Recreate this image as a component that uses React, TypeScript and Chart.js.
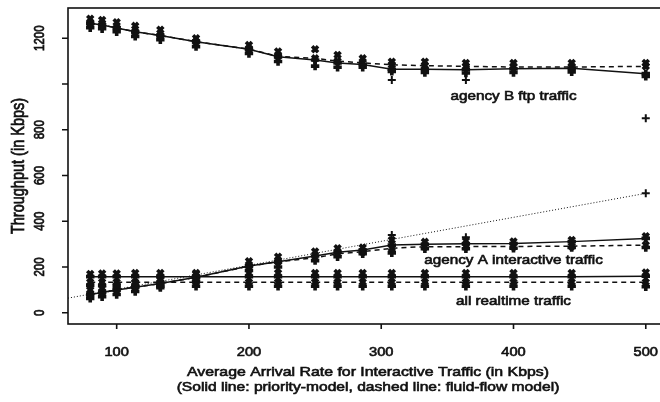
import React, { useEffect, useRef } from "react";
import { Chart, registerables } from "chart.js";

Chart.register(...registerables);

// Average arrival rate for interactive traffic (Kbps)
const rates = [80, 89, 100, 114, 133, 160, 200, 222, 250, 267, 286, 308, 333, 364, 400, 444, 500];

// agency B ftp traffic
const ftpPriority = [1265, 1258, 1245, 1228, 1212, 1185, 1152, 1119, 1105, 1092, 1085, 1064, 1064, 1062, 1066, 1069, 1045];
const ftpFluid = [1265, 1258, 1245, 1228, 1212, 1185, 1152, 1121, 1112, 1100, 1092, 1084, 1080, 1077, 1074, 1074, 1077];
const ftpSimHigh = [1285, 1280, 1270, 1254, 1237, 1200, 1170, 1142, 1152, 1127, 1112, 1097, 1097, 1092, 1092, 1092, 1092];
const ftpSimLow = [1246, 1241, 1228, 1208, 1193, 1163, 1133, 1098, 1078, 1073, 1073, 1055, 1050, 1048, 1050, 1053, 1033];

// agency A interactive traffic
const intPriority = [80, 89, 100, 112, 128, 155, 204, 223, 248, 265, 274, 296, 299, 302, 303, 311, 325];
const intFluid = [80, 89, 100, 112, 128, 155, 204, 223, 240, 258, 267, 282, 289, 289, 290, 291, 296];
const intSimHigh = [100, 108, 118, 130, 145, 170, 225, 245, 268, 282, 285, 318, 310, 315, 312, 318, 335];
const intSimLow = [63, 70, 80, 93, 110, 138, 185, 200, 228, 245, 258, 262, 280, 280, 282, 285, 285];

// all realtime traffic
const rtPriority = [158, 158, 158, 158, 158, 158, 158, 158, 158, 158, 158, 158, 158, 158, 158, 158, 160];
const rtFluid = [134, 134, 134, 134, 134, 134, 134, 134, 134, 134, 134, 134, 134, 134, 134, 134, 134];
const rtSimHigh = [170, 172, 172, 174, 174, 174, 174, 174, 174, 174, 174, 174, 174, 174, 174, 174, 176];
const rtSimLow = [120, 118, 118, 116, 116, 116, 116, 116, 116, 116, 116, 116, 116, 116, 116, 116, 114];

// offered interactive load (dotted) and isolated simulation points
const offeredX = [63.2, 500];
const offeredY = [64, 522];
const outlierX = [308, 364, 500, 308, 364, 500];
const outlierY = [1017, 1017, 850, 340, 330, 522];

const xTicks = [100, 200, 300, 400, 500];
const yTicks = [0, 200, 400, 600, 800, 1000, 1200];
const yTickLabels = ["0", "200", "400", "600", "800", "", "1200"];

const xTitle = "Average Arrival Rate for Interactive Traffic (in Kbps)";
const xSubTitle = "(Solid line: priority-model, dashed line: fluid-flow model)";
const yTitle = "Throughput (in Kbps)";

const noteTexts = ["agency B ftp traffic", "agency A interactive traffic", "all realtime traffic"];
const noteX = [400, 400, 400];
const noteY = [943, 229, 48];

const FONT = '"Liberation Sans", Arial, Helvetica, sans-serif';
const INK = "#111";
const SX = 1.22;

const pts = (xs: number[], ys: number[]) => xs.map((x, i) => ({ x, y: ys[i] }));

function drawText(ctx: CanvasRenderingContext2D, s: string, x: number, y: number, size: number, rotate = false) {
  ctx.save();
  ctx.translate(x, y);
  ctx.scale(SX, 1);
  if (rotate) ctx.rotate(-Math.PI / 2);
  ctx.font = `${size}px ${FONT}`;
  ctx.textAlign = "center";
  ctx.textBaseline = "middle";
  ctx.fillStyle = INK;
  ctx.strokeStyle = INK;
  ctx.lineWidth = 0.6;
  ctx.fillText(s, 0, 0);
  ctx.strokeText(s, 0, 0);
  ctx.restore();
}

const rAxes = {
  id: "rAxes",
  afterDraw(chart: any) {
    const { ctx, chartArea: a, scales } = chart;
    const xs = scales.x;
    const ys = scales.y;
    ctx.save();
    ctx.strokeStyle = INK;
    ctx.lineWidth = 1.6;
    ctx.strokeRect(a.left, a.top, a.right - a.left, a.bottom - a.top);
    ctx.beginPath();
    xTicks.forEach((v) => {
      const px = xs.getPixelForValue(v);
      ctx.moveTo(px, a.bottom);
      ctx.lineTo(px, a.bottom + 5);
    });
    yTicks.forEach((v) => {
      const py = ys.getPixelForValue(v);
      ctx.moveTo(a.left, py);
      ctx.lineTo(a.left - 6, py);
    });
    ctx.stroke();
    ctx.restore();

    xTicks.forEach((v) => drawText(ctx, String(v), xs.getPixelForValue(v), a.bottom + 29, 12));
    yTicks.forEach((v, i) => {
      if (yTickLabels[i]) drawText(ctx, yTickLabels[i], 40, ys.getPixelForValue(v), 11.5, true);
    });
    const cx = (a.left + a.right) / 2;
    drawText(ctx, xTitle, cx, a.bottom + 48, 13);
    drawText(ctx, xSubTitle, cx, a.bottom + 63, 12.8);
    drawText(ctx, yTitle, 19, (a.top + a.bottom) / 2, 14.5, true);
    noteTexts.forEach((t, i) =>
      drawText(ctx, t, xs.getPixelForValue(noteX[i]), ys.getPixelForValue(noteY[i]), 12.5)
    );
  },
};

export default function App() {
  const ref = useRef<HTMLCanvasElement | null>(null);
  useEffect(() => {
    if (!ref.current) return;
    const line = (ys: number[], dash: number[]) => ({
      data: pts(rates, ys),
      borderColor: INK,
      borderWidth: 1.5,
      borderDash: dash,
      pointRadius: 0,
      showLine: true,
      fill: false,
      tension: 0,
    });
    const marks = (ys: number[], style: string) => ({
      data: pts(rates, ys),
      showLine: false,
      pointStyle: style,
      pointRadius: 4.2,
      pointBorderWidth: 3.6,
      pointBorderColor: INK,
      pointBackgroundColor: INK,
    });
    const chart = new Chart(ref.current, {
      type: "scatter",
      data: {
        datasets: [
          {
            data: pts(offeredX, offeredY),
            borderColor: INK,
            borderWidth: 1,
            borderDash: [1, 2],
            pointRadius: 0,
            showLine: true,
          },
          line(ftpPriority, []),
          line(ftpFluid, [5, 4]),
          line(intPriority, []),
          line(intFluid, [5, 4]),
          line(rtPriority, []),
          line(rtFluid, [5, 4]),
          marks(ftpSimHigh, "crossRot"),
          marks(ftpPriority, "cross"),
          marks(ftpFluid, "crossRot"),
          marks(ftpSimLow, "cross"),
          marks(intSimHigh, "crossRot"),
          marks(intPriority, "cross"),
          marks(intFluid, "crossRot"),
          marks(intSimLow, "cross"),
          marks(rtSimHigh, "crossRot"),
          marks(rtPriority, "cross"),
          marks(rtFluid, "crossRot"),
          marks(rtSimLow, "cross"),
          {
            data: pts(outlierX, outlierY),
            showLine: false,
            pointStyle: "cross",
            pointRadius: 4,
            pointBorderWidth: 2,
            pointBorderColor: INK,
          },
        ] as any,
      },
      options: {
        animation: false,
        responsive: false,
        maintainAspectRatio: false,
        layout: { padding: { left: 68, top: 8, right: 12, bottom: 78 } },
        plugins: { legend: { display: false }, tooltip: { enabled: false } },
        scales: {
          x: { type: "linear", min: 63.2, max: 516.8, display: false },
          y: { type: "linear", min: -49, max: 1332, display: false },
        },
      },
      plugins: [rAxes],
    });
    return () => chart.destroy();
  }, []);
  return (
    <div style={{ position: "fixed", left: 0, top: 0, width: 660, height: 402, overflow: "hidden", background: "#fff" }}>
      <canvas ref={ref} width={680} height={402} style={{ width: 680, height: 402, display: "block" }} />
    </div>
  );
}
